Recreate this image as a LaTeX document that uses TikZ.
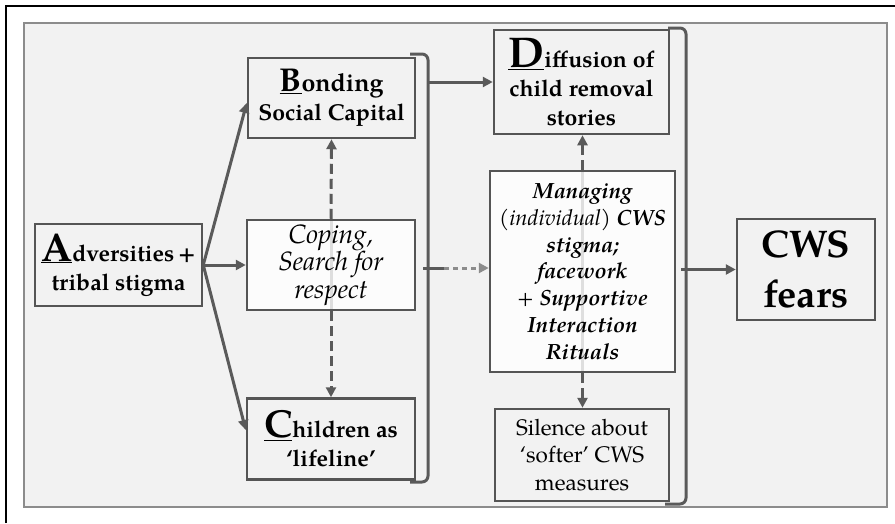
\documentclass[tikz,border=0pt]{standalone}
\usepackage{fontspec}
\setmainfont{TeX Gyre Pagella}
\usetikzlibrary{arrows.meta}
\definecolor{ln}{HTML}{5A5A5A}
\definecolor{bx}{HTML}{555555}
\definecolor{pn}{HTML}{F2F2F2}
\definecolor{pb}{HTML}{8C8C8C}
\definecolor{dt}{HTML}{8C8C8C}
\pgfdeclarelayer{bg}\pgfdeclarelayer{mid}\pgfsetlayers{bg,mid,main}
\newcommand\mbf{\bfseries}
\newcommand\bigini[2]{\underline{\fontsize{#1}{#1}\selectfont #2}}
\begin{document}
\begin{tikzpicture}[x=1pt,y=-1pt,
  box/.style={draw=bx, line width=2.5pt, fill=pn, inner sep=2pt, align=center,
    font=\bfseries\fontsize{23}{29}\selectfont},
  wbox/.style={box, fill=white, fill opacity=0.8, text opacity=1,
    font=\itshape\fontsize{22}{26.8}\selectfont},
  rbox/.style={box, font=\fontsize{22.5}{27.5}\selectfont},
  arr/.style={draw=ln, line width=3pt, -{Triangle[length=10pt,width=10pt]}},
  dsh/.style={arr, dash pattern=on 10pt off 5pt},
  brk/.style={draw=ln, line width=3pt, rounded corners=6pt}]
\useasboundingbox (0,0) rectangle (895,523);
\begin{pgfonlayer}{bg}
\draw[draw=pb, fill=pn, line width=1.5pt] (24,23) rectangle (887,507);
\end{pgfonlayer}
\draw[black, line width=2pt] (6,523) -- (6,6) -- (895,6);
% boxes
\node[box, minimum width=167pt, minimum height=82pt] (A) at (118.5,265)
  {\bigini{40}{A}dversities\,+\\tribal stigma};
\node[box, minimum width=167pt, minimum height=80pt] (B) at (331.5,98)
  {\bigini{33}{B}{\fontsize{25}{29}\selectfont onding}\\Social Capital};
\node[wbox, minimum width=168pt, minimum height=90pt, font=\itshape\fontsize{26.5}{27.5}\selectfont] (Cop) at (331,265)
  {Coping,\\Search for\\respect};
\node[box, minimum width=168pt, minimum height=81pt] (C) at (331,439)
  {\bigini{39}{C}hildren as\\‘lifeline’};
\node[box, minimum width=175pt, minimum height=104pt] (D) at (581.5,82)
  {\bigini{43}{D}iffusion of\\child removal\\stories};
\node[wbox, minimum width=185pt, minimum height=201pt] (M) at (582.5,271.5)
  {{\mbf Managing}\\(individual) \textbf{CWS}\\{\mbf stigma;}\\{\mbf facework}\\+ {\mbf Supportive}\\{\mbf Interaction}\\{\mbf Rituals}};
\node[rbox, minimum width=174pt, minimum height=92pt] (S) at (582,455)
  {Silence about\\‘softer’ CWS\\measures};
\node[box, minimum width=138pt, minimum height=101pt, font=\bfseries\fontsize{38.5}{50}\selectfont] (W) at (806,269.5)
  {CWS\\fears};
% faint lines through white boxes
\begin{pgfonlayer}{mid}
\draw[ln, line width=3pt] (Cop.north) -- (Cop.south);
\draw[ln, line width=3pt] (M.north) -- (M.south);
\end{pgfonlayer}
% brackets
\coordinate (b1t) at (428,54);
\coordinate (b1b) at (428,482);
\coordinate (b1m) at (428,268);
\draw[brk] (410,54) -- (b1t) -- (b1b) -- (410,482);
\draw[ln, line width=3pt] (b1m) -- (423,268);
\coordinate (b2t) at (686,28);
\coordinate (b2b) at (686,504);
\coordinate (b2m) at (686,269.5);
\draw[brk] (668,28) -- (b2t) -- (b2b) -- (665,504);
\draw[ln, line width=3pt] (b2m) -- (681,269.5);
% arrows from A
\draw[arr] (A.east) -- ([yshift=-5pt]B.west);
\draw[arr] (A.east) -- (Cop.west);
\draw[arr] (A.east) -- ([yshift=9pt]C.west);
% dashed verticals
\draw[dsh] (Cop.north) -- (B.south);
\draw[dsh] (Cop.south) -- (C.north);
\draw[dsh] (M.north) -- (M.north |- D.south);
\draw[dsh] (M.south) -- (M.south |- S.north);
% bracket outputs
\draw[arr] (b1t |- D.west) -- (D.west);
\draw[ln, line width=3pt] (b1m) -- ++(16,0) coordinate (b1d);
\draw[draw=dt, line width=3pt, dash pattern=on 5pt off 4pt, -{Triangle[length=10pt,width=10pt]}] (b1d) -- (M.west |- b1m);
\draw[arr] (b2m) -- (W.west);
\end{tikzpicture}
\end{document}
